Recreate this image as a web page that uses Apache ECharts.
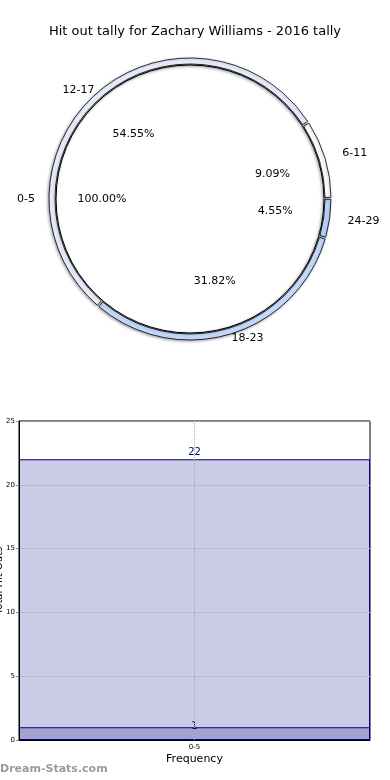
<!DOCTYPE html>
<html><head><meta charset="utf-8">
<script src="https://cdn.jsdelivr.net/npm/echarts@6/dist/echarts.min.js"></script>
<style>html,body{margin:0;padding:0;background:#fff}#c{width:390px;height:780px}</style>
</head><body><div id="c"></div>
<script>
const titleText = 'Hit out tally for Zachary Williams - 2016 tally';
const innerCats = ['0-5'];
const innerVals = [22];
const ringCats = ['6-11', '24-29', '18-23', '12-17'];
const ringVals = [2, 1, 7, 12];
const barCats = ['0-5'];
const barTotal = [22];
const barLow = [1];
const yTicks = [0, 5, 10, 15, 20, 25];

// styling (kept apart from data)
const ringColors = { '6-11': '#ffffff', '24-29': '#b9d5ff', '18-23': '#c8dcff', '12-17': '#eaefff' };
const ringLabelLen = { '6-11': 18, '24-29': 18, '18-23': 4, '12-17': 4 };

const font = 'DejaVu Sans';
const center = [190, 199];
const sumOf = a => a.reduce((s, v) => s + v, 0);
const pctOf = arr => p => (p.value / sumOf(arr) * 100).toFixed(2) + '%';

const chart = echarts.init(document.getElementById('c'));
chart.setOption({
  animation: false,
  textStyle: { fontFamily: font },
  title: { text: titleText, left: 'center', top: 20, textStyle: { fontSize: 13, fontWeight: 'normal', color: '#000', fontFamily: font } },
  graphic: [{ type: 'text', left: 0, top: 764, style: { text: 'Dream-Stats.com', font: 'bold 11px "DejaVu Sans"', fill: '#9a9a9a' } }],
  grid: { left: 19, right: 20, top: 421, bottom: 40, show: true, borderColor: '#000', borderWidth: 1, containLabel: false, outerBoundsMode: 'none' },
  xAxis: {
    type: 'category', data: barCats, z: 10,
    name: 'Frequency', nameLocation: 'middle', nameGap: 14,
    nameTextStyle: { fontSize: 11, color: '#000' },
    axisLine: { lineStyle: { color: '#000' } }, axisTick: { show: false },
    axisLabel: { fontSize: 7, color: '#000', margin: 4 }
  },
  yAxis: {
    type: 'value', min: 0, max: 25, interval: 5, z: 10,
    name: 'Total Hit Outs', nameLocation: 'middle', nameGap: 15, nameRotate: 90, nameMoveOverlap: false,
    nameTextStyle: { fontSize: 10, color: '#000' },
    axisLine: { show: true, lineStyle: { color: '#000' } },
    axisTick: { show: true, length: 3, lineStyle: { color: '#888' } },
    axisLabel: { fontSize: 7, color: '#000', margin: 4, formatter: v => yTicks.includes(v) ? String(v) : '' },
    splitLine: { show: true, lineStyle: { color: '#aaa', type: 'dotted' } }
  },
  series: [
    {
      type: 'pie', center: center, radius: [0, 134], startAngle: 0, silent: true,
      data: innerCats.map((c, i) => ({ name: c, value: innerVals[i] })),
      itemStyle: { color: '#fff', borderColor: '#000', borderWidth: 1, shadowBlur: 3, shadowColor: 'rgba(0,0,0,0.4)', shadowOffsetX: -1, shadowOffsetY: 1 },
      label: { show: false }, labelLine: { show: false }, z: 1
    },
    {
      type: 'pie', center: center, radius: [58, 112], startAngle: 0, silent: true,
      data: innerCats.map((c, i) => ({ name: c, value: innerVals[i] })),
      itemStyle: { color: 'rgba(0,0,0,0)' },
      label: { show: true, position: 'inside', formatter: pctOf(innerVals), fontSize: 11, color: '#000' }, labelLine: { show: false }, z: 3
    },
    {
      type: 'pie', center: center, radius: [140, 182], startAngle: 0, silent: true,
      data: innerCats.map((c, i) => ({ name: c, value: innerVals[i] })),
      itemStyle: { color: 'rgba(0,0,0,0)' },
      label: { show: true, position: 'inside', formatter: '{b}', fontSize: 11, color: '#000' }, labelLine: { show: false }, z: 3
    },
    {
      type: 'pie', center: center, radius: [135, 141], startAngle: 33, clockwise: true, silent: true, padAngle: 0.8,
      data: ringCats.map((c, i) => ({ name: c, value: ringVals[i], itemStyle: { color: ringColors[c] }, labelLine: { length: ringLabelLen[c] } })),
      itemStyle: { borderColor: '#000', borderWidth: 0.8, shadowBlur: 3, shadowColor: 'rgba(0,0,0,0.35)', shadowOffsetX: -1, shadowOffsetY: 1 },
      label: { show: true, position: 'outside', formatter: '{b}', fontSize: 11, color: '#000', distanceToLabelLine: 0 },
      labelLine: { show: false, length: 4, length2: 0 }, z: 2
    },
    {
      type: 'pie', center: center, radius: [56, 110], startAngle: 33, clockwise: true, silent: true,
      data: ringCats.map((c, i) => ({ name: c, value: ringVals[i] })),
      itemStyle: { color: 'rgba(0,0,0,0)' },
      label: { show: true, position: 'inside', formatter: pctOf(ringVals), fontSize: 11, color: '#000' }, labelLine: { show: false }, z: 3
    },
    {
      type: 'bar', data: barTotal, barWidth: '100%', barGap: '-100%',
      itemStyle: { color: '#cccce6', borderColor: '#000080', borderWidth: 1 },
      label: { show: true, position: 'top', distance: 2, fontSize: 10, color: '#000080' },
      z: 2
    },
    {
      type: 'bar', data: barLow, barWidth: '100%', barGap: '-100%',
      itemStyle: { color: '#a3a3d1', borderColor: '#000080', borderWidth: 1 },
      label: { show: true, position: 'top', distance: -4, fontSize: 10, color: '#000080' },
      markLine: { silent: true, symbol: 'none', label: { show: false }, lineStyle: { color: '#aaa', type: 'dotted', width: 1 }, data: [{ xAxis: '0-5' }] },
      z: 3
    }
  ]
});
</script></body></html>
